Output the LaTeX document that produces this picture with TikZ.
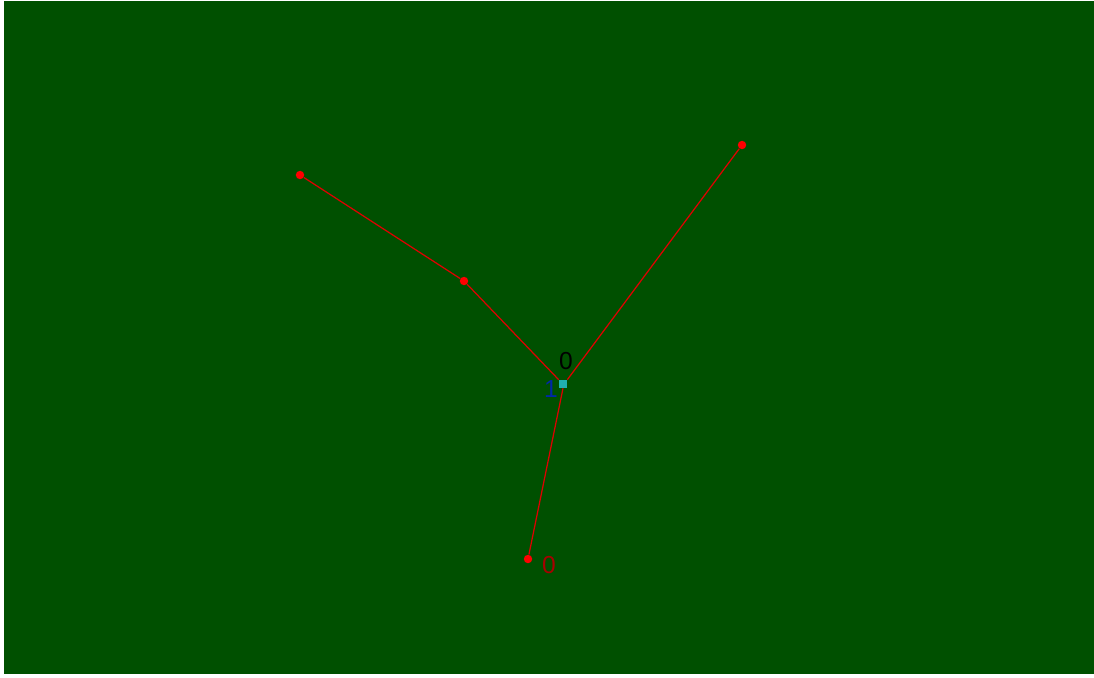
\documentclass[tikz,border=0pt]{standalone}
\usepackage{fontspec}
\setmainfont{Liberation Sans}
\usepackage{xcolor}
\usepackage{tikz}
\usetikzlibrary{positioning}
\definecolor{field}{HTML}{005000}
\definecolor{bone}{HTML}{E00000}
\definecolor{joint}{HTML}{20B0B0}
\definecolor{tagblue}{HTML}{0028A8}

\tikzset{
  tip/.style={circle,fill=red,inner sep=0pt,minimum size=4.8pt},
  root/.style={rectangle,fill=joint,inner sep=0pt,minimum size=4.5pt},
  tag/.style={inner sep=0pt,font=\fontsize{14}{15}\selectfont}
}

\begin{document}
\begin{tikzpicture}[x=0.02cm,y=-0.02cm]
  \useasboundingbox (0,0) rectangle (1094,677);
  \fill[white] (0,0) rectangle (1094,677);
  \fill[field] (4,1) rectangle (1094,674);
  % joints
  \node[root] (hub) at (563,384) {};
  \foreach \nm/\x/\y in {arm/300/175, elbow/464/281, wing/742/145, foot/528/559}{
    \node[tip] (\nm) at (\x,\y) {};}
  % bones
  \draw[bone,line width=0.7pt] (arm) -- (elbow) -- (hub.north west);
  \draw[bone,line width=0.7pt] (hub.north east) -- (wing);
  \draw[bone,line width=0.7pt] (hub.south) -- (foot);
  % labels
  \node[tag,text=black] (zero) at (566,361) {0};
  \node[tag,text=tagblue] (one) at (551,389) {1};
  \node[tag,text=bone!75!black] (end) at (549,565) {0};
\end{tikzpicture}
\end{document}
